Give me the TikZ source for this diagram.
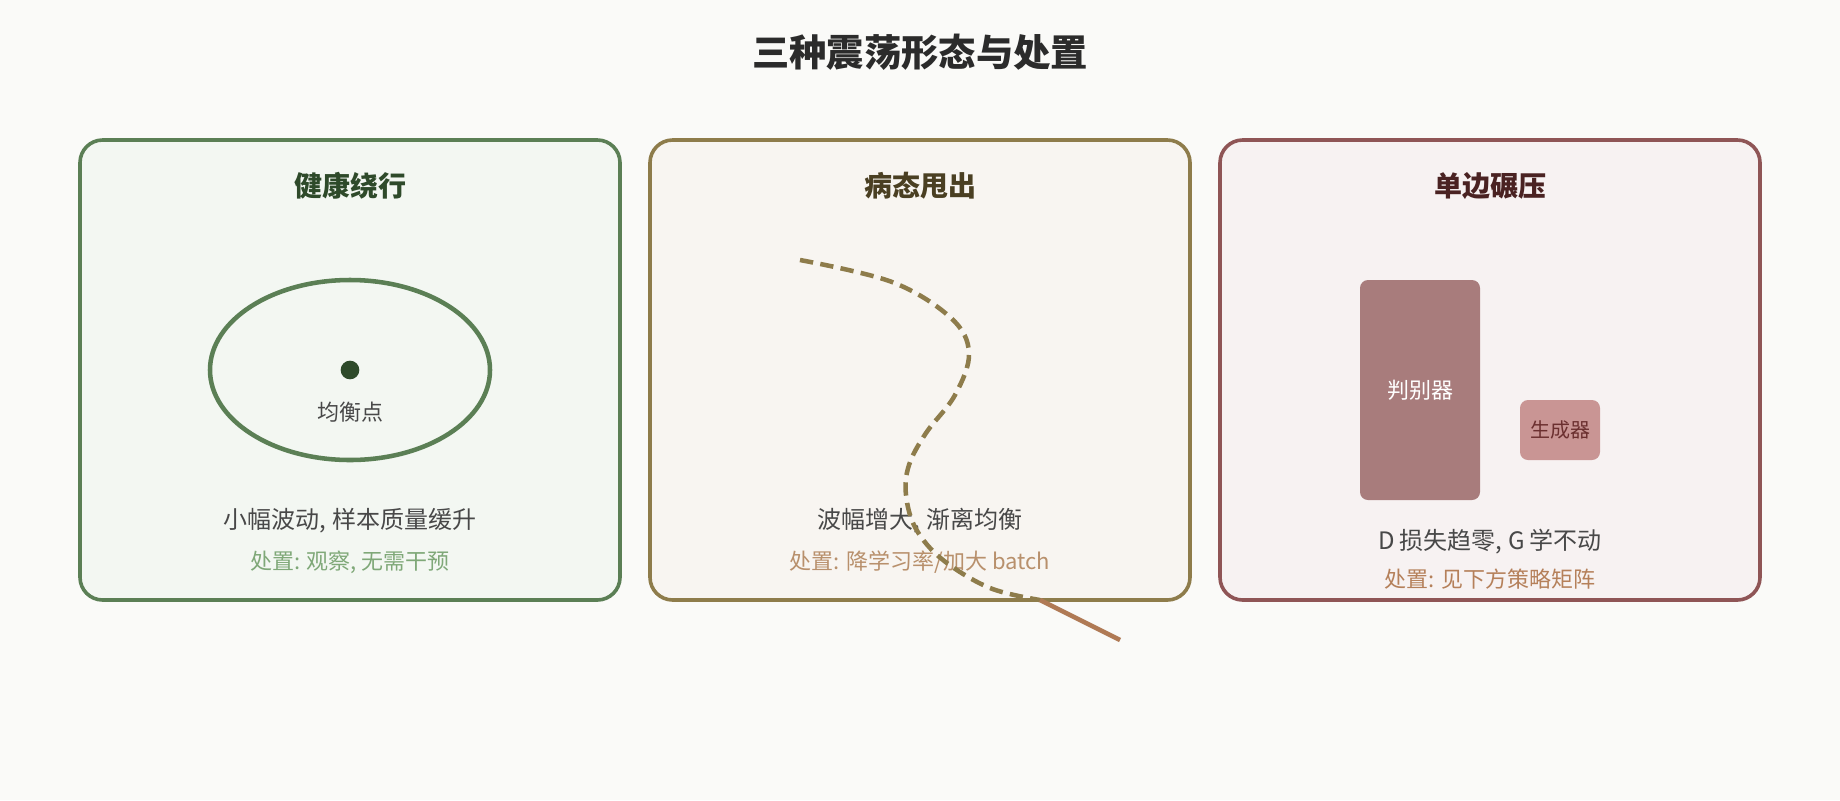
\documentclass[tikz,border=0pt]{standalone}
\usepackage{fontspec}
\setmainfont{Noto Sans CJK SC}
\usepackage{xcolor}
\usetikzlibrary{shapes.geometric,positioning}

\definecolor{bgcol}{HTML}{FAFAF8}
\definecolor{titlecol}{HTML}{2B2B2B}
\definecolor{textcol}{HTML}{484848}
\definecolor{healthline}{HTML}{5B7F55}
\definecolor{healthfill}{HTML}{F3F7F2}
\definecolor{healthdark}{HTML}{2E4A2A}
\definecolor{healthact}{HTML}{7FA878}
\definecolor{swingline}{HTML}{8E7C4B}
\definecolor{swingfill}{HTML}{F8F5F1}
\definecolor{swingdark}{HTML}{4A3F22}
\definecolor{swingact}{HTML}{B8906C}
\definecolor{escapecol}{HTML}{B07A55}
\definecolor{crushline}{HTML}{8F5556}
\definecolor{crushfill}{HTML}{F7F2F2}
\definecolor{crushdark}{HTML}{4A2222}
\definecolor{discol}{HTML}{A87C7C}
\definecolor{gencol}{HTML}{C99594}
\definecolor{gentext}{HTML}{6B2F2F}
\definecolor{crushact}{HTML}{B5805A}

\tikzstyle{panel} = [draw, line width=2.7pt, rounded corners=17pt, minimum width=405pt, minimum height=345pt]
\tikzstyle{paneltitle} = [font=\bfseries\fontsize{21}{24}\selectfont]
\tikzstyle{desc} = [text=textcol, font=\fontsize{18}{21}\selectfont]
\tikzstyle{action} = [font=\fontsize{16.5}{19}\selectfont]

\begin{document}
\begin{tikzpicture}[
        x=0.75pt, y=-0.75pt,
        every node/.style={align=center, inner sep=0pt, outer sep=0pt}
        ]
        \fill[bgcol] (0,0) rectangle (1840,800);
        \useasboundingbox (0,0) rectangle (1840,800);

        \node[text=titlecol, font=\bfseries\fontsize{28}{31}\selectfont] (title) at (920,52) {三种震荡形态与处置};

        % healthy orbit
        \node[panel, draw=healthline, fill=healthfill] (healthy) at (350,370) {};
        \node[paneltitle, text=healthdark] (healthyT) at (350,186) {健康绕行};
        \node[ellipse, draw=healthline, line width=3.4pt, minimum width=210pt, minimum height=135pt] (orbit) at (350,370) {};
        \node[circle, fill=healthdark, minimum size=14pt] (eq) at (350,370) {};
        \node[text=textcol, font=\fontsize{16.5}{19}\selectfont] (eqL) at (350,412) {均衡点};
        \node[desc] (healthyD) at (350,521) {小幅波动, 样本质量缓升};
        \node[action, text=healthact] (healthyA) at (350,562) {处置: 观察, 无需干预};

        % diverging swing
        \node[panel, draw=swingline, fill=swingfill] (swing) at (920,370) {};
        \node[paneltitle, text=swingdark] (swingT) at (920,186) {病态甩出};
        \node[desc] (swingD) at (920,521) {波幅增大, 渐离均衡};
        \node[action, text=swingact] (swingA) at (920,562) {处置: 降学习率/加大 batch};
        \coordinate (s0) at (800,260);
        \coordinate (s6) at (1040,600);
        \coordinate (out) at (1120,640);
        \draw[swingline, line width=3.4pt, dash pattern=on 10pt off 5.5pt]
            plot[smooth, tension=0.6] coordinates {(s0) (892,282) (951,318) (969,353) (955,395) (926,433) (909,465) (906,495) (916,529) (943,560) (990,588) (s6)};
        \draw[escapecol, line width=3.4pt] (s6) -- (out);

        % one-sided crush
        \node[panel, draw=crushline, fill=crushfill] (crush) at (1490,370) {};
        \node[paneltitle, text=crushdark] (crushT) at (1490,186) {单边碾压};
        \node[fill=discol, rounded corners=6pt, minimum width=90pt, minimum height=165pt, text=white, font=\fontsize{16.5}{19}\selectfont] (dis) at (1420,390) {判别器};
        \node[fill=gencol, rounded corners=6pt, minimum width=60pt, minimum height=45pt, text=gentext, font=\fontsize{15}{18}\selectfont] (gen) at (1560,430) {生成器};
        \node[desc] (crushD) at (1490,542) {D 损失趋零, G 学不动};
        \node[action, text=crushact] (crushA) at (1490,579) {处置: 见下方策略矩阵};
\end{tikzpicture}
\end{document}
